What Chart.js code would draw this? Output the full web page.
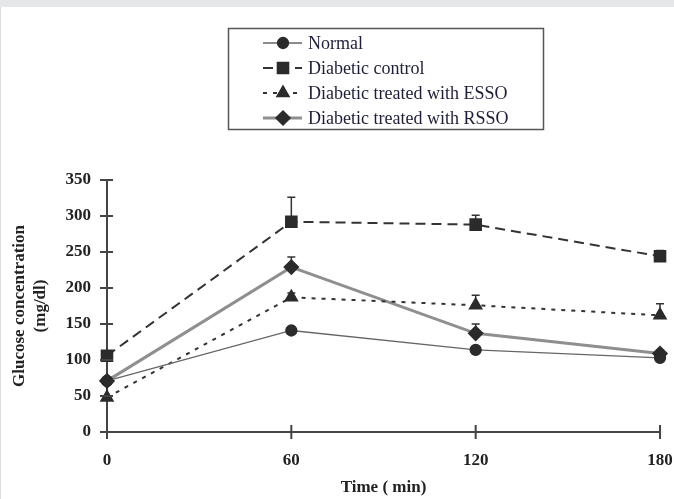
<!DOCTYPE html>
<html>
<head>
<meta charset="utf-8">
<script src="https://cdn.jsdelivr.net/npm/chart.js@4.4.1/dist/chart.umd.min.js"></script>
<style>
    html, body { margin: 0; padding: 0; background: #fff; }
    #wrap { position: relative; width: 674px; height: 499px; background: #fff; overflow: hidden; }
    #faixaTopo { position: absolute; left: 0; top: 0; width: 674px; height: 7px; background: #e6e7e8; }
    #bordaEsq { position: absolute; left: 0; top: 7px; width: 1px; height: 492px; background: #dcdcdc; }
    canvas { position: absolute; left: 0; top: 0; }
</style>
</head>
<body>
<div id="wrap">
    <div id="faixaTopo"></div>
    <div id="bordaEsq"></div>
    <canvas id="grafico" width="674" height="499"></canvas>
</div>
<script>
// tempos (min)
const tempos = [0, 60, 120, 180];

// glicose (mg/dl)
const normal = [71, 141, 114, 103];
const controleDiabetico = [106, 292, 288, 244];
const tratadoESSO = [48, 187, 176, 162];
const tratadoRSSO = [71, 229, 137, 109];

// barras de erro (so para cima)
const erroNormal = [0, 0, 0, 0];
const erroControle = [0, 34, 13, 8];
const erroESSO = [0, 6, 14, 16];
const erroRSSO = [0, 14, 13, 5];

const nomes = ['Normal', 'Diabetic control', 'Diabetic treated with ESSO', 'Diabetic treated with RSSO'];
const ticksY = [0, 50, 100, 150, 200, 250, 300, 350];
const ticksX = [0, 60, 120, 180];

function pontos(valores) {
    return tempos.map((t, i) => ({ x: t, y: valores[i] }));
}

const corMarca = '#2b2b2b';
const fonteSerif = '"Liberation Serif", "Times New Roman", serif';

const errosPlugin = {
    id: 'erros',
    beforeDatasetsDraw(chart) {
        const ctx = chart.ctx;
        const ys = chart.scales.y;
        ctx.save();
        ctx.strokeStyle = '#333';
        ctx.lineWidth = 1.5;
        chart.data.datasets.forEach((ds, i) => {
            const meta = chart.getDatasetMeta(i);
            ds.erros.forEach((e, j) => {
                if (!e) return;
                const p = meta.data[j];
                const topo = ys.getPixelForValue(ds.data[j].y + e);
                ctx.beginPath();
                ctx.moveTo(p.x, p.y);
                ctx.lineTo(p.x, topo);
                ctx.moveTo(p.x - 4, topo);
                ctx.lineTo(p.x + 4, topo);
                ctx.stroke();
            });
        });
        ctx.restore();
    }
};

const eixosPlugin = {
    id: 'eixos',
    afterDraw(chart) {
        const ctx = chart.ctx;
        const xs = chart.scales.x, ys = chart.scales.y;
        const area = chart.chartArea;
        ctx.save();
        ctx.strokeStyle = '#444';
        ctx.lineWidth = 2;
        ctx.beginPath();
        ys.ticks.forEach(t => {
            const py = ys.getPixelForValue(t.value);
            ctx.moveTo(area.left - 7, py);
            ctx.lineTo(area.left + 6, py);
        });
        xs.ticks.forEach(t => {
            const px = xs.getPixelForValue(t.value);
            ctx.moveTo(px, area.bottom - 7);
            ctx.lineTo(px, area.bottom + 7);
        });
        ctx.stroke();
        ctx.restore();
    }
};

// legenda desenhada a mao, dentro de uma caixa
const legendaPlugin = {
    id: 'legenda',
    afterDraw(chart) {
        const ctx = chart.ctx;
        ctx.save();
        ctx.strokeStyle = '#555';
        ctx.lineWidth = 1.5;
        ctx.strokeRect(228.5, 28.5, 315, 101);
        chart.data.datasets.forEach((ds, i) => {
            const y = 43 + i * 25;
            ctx.beginPath();
            ctx.strokeStyle = ds.borderColor;
            ctx.lineWidth = ds.borderWidth;
            ctx.setLineDash(ds.borderDash || []);
            ctx.moveTo(263, y);
            ctx.lineTo(302, y);
            ctx.stroke();
            ctx.setLineDash([]);
            ctx.fillStyle = corMarca;
            ctx.strokeStyle = corMarca;
            Chart.helpers.drawPoint(ctx, {
                pointStyle: ds.pointStyle,
                radius: ds.pointRadius,
                rotation: 0,
                borderWidth: 1
            }, 283, y);
            ctx.fillStyle = '#1e1e38';
            ctx.font = '18px ' + fonteSerif;
            ctx.textBaseline = 'middle';
            ctx.textAlign = 'left';
            ctx.fillText(ds.label, 308, y + 1);
        });
        ctx.restore();
    }
};

const grafico = document.getElementById('grafico');
new Chart(grafico, {
    type: 'line',
    data: {
        datasets: [{
            label: nomes[0],
            data: pontos(normal),
            erros: erroNormal,
            borderColor: '#666',
            borderWidth: 1.3,
            pointStyle: 'circle',
            pointRadius: 5.5,
            pointBackgroundColor: corMarca,
            pointBorderColor: corMarca
        }, {
            label: nomes[1],
            data: pontos(controleDiabetico),
            erros: erroControle,
            borderColor: '#333',
            borderWidth: 2,
            borderDash: [10, 6],
            pointStyle: 'rect',
            pointRadius: 7.5,
            pointBackgroundColor: corMarca,
            pointBorderColor: corMarca
        }, {
            label: nomes[2],
            data: pontos(tratadoESSO),
            erros: erroESSO,
            borderColor: '#333',
            borderWidth: 2,
            borderDash: [4, 6],
            pointStyle: 'triangle',
            pointRadius: 6.5,
            pointBackgroundColor: corMarca,
            pointBorderColor: corMarca
        }, {
            label: nomes[3],
            data: pontos(tratadoRSSO),
            erros: erroRSSO,
            borderColor: '#8f8f8f',
            borderWidth: 3,
            pointStyle: 'rectRot',
            pointRadius: 6,
            pointBackgroundColor: corMarca,
            pointBorderColor: corMarca
        }]
    },
    options: {
        responsive: false,
        animation: false,
        clip: false,
        layout: { padding: { left: 0, top: 180, right: 14, bottom: 0 } },
        plugins: {
            legend: { display: false },
            tooltip: { enabled: false }
        },
        elements: { line: { tension: 0, fill: false } },
        scales: {
            x: {
                type: 'linear',
                min: 0,
                max: 180,
                afterFit: (s) => { s.height = 67; s.paddingLeft = 0; s.paddingRight = 0; },
                afterBuildTicks: (s) => { s.ticks = ticksX.map(v => ({ value: v })); },
                grid: { display: false, drawTicks: false },
                border: { display: true, color: '#444', width: 2 },
                ticks: {
                    padding: 18,
                    color: '#222',
                    font: { family: fonteSerif, size: 17, weight: 'bold' }
                },
                title: {
                    display: true,
                    text: 'Time ( min)',
                    color: '#222',
                    padding: { top: 0, bottom: 1 },
                    font: { family: fonteSerif, size: 17, weight: 'bold', lineHeight: 1.2 }
                }
            },
            y: {
                min: 0,
                max: 350,
                afterFit: (s) => { s.width = 107; },
                afterBuildTicks: (s) => { s.ticks = ticksY.map(v => ({ value: v })); },
                grid: { display: false, drawTicks: false },
                border: { display: true, color: '#444', width: 2 },
                ticks: {
                    padding: 16,
                    color: '#222',
                    font: { family: fonteSerif, size: 17, weight: 'bold' }
                },
                title: {
                    display: true,
                    text: ['Glucose concentration', '(mg/dl)'],
                    color: '#222',
                    padding: { top: 9, bottom: 0 },
                    font: { family: fonteSerif, size: 17, weight: 'bold', lineHeight: 1.25 }
                }
            }
        }
    },
    plugins: [errosPlugin, eixosPlugin, legendaPlugin]
});
</script>
</body>
</html>
